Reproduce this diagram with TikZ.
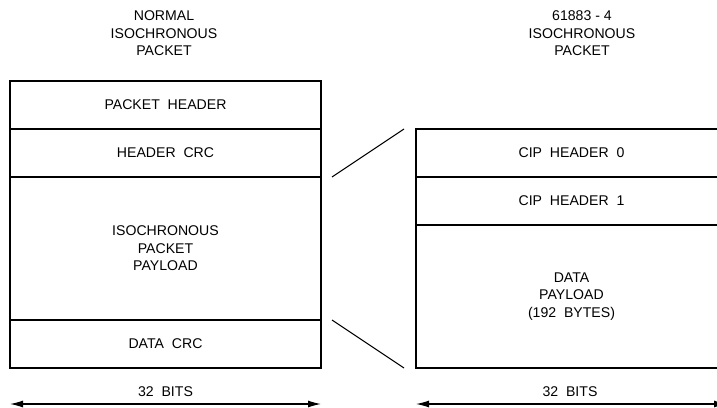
\documentclass[tikz,border=0pt]{standalone}
\usepackage{fontspec}
\setmainfont{Liberation Sans}
\usetikzlibrary{arrows.meta}
\begin{document}
\begin{tikzpicture}[x=1pt,y=-1pt,
  every node/.style={font=\fontsize{14.1}{17.5}\selectfont, align=center, inner sep=0pt},
  cell/.style={draw, line width=1.1pt, minimum width=311pt, minimum height=#1},
  link/.style={line width=1pt},
  dim/.style={line width=1.1pt, {Latex[length=13pt,width=7pt]}-{Latex[length=13pt,width=7pt]}}]
\useasboundingbox (0,0) rectangle (717,407);
\clip (0,0) rectangle (717,407);
% titles
\node (t1) at (164,33.5) {NORMAL\\ISOCHRONOUS\\PACKET};
\node (t2) at (582,33.5) {61883 - 4\\ISOCHRONOUS\\PACKET};
% left packet
\node[cell=48pt]  (ph)  at (165.5,105)   {PACKET\ \ HEADER};
\node[cell=48pt]  (hc)  at (165.5,153)   {HEADER\ \ CRC};
\node[cell=143pt] (ip)  at (165.5,248.5) {ISOCHRONOUS\\PACKET\\PAYLOAD};
\node[cell=48pt]  (dc)  at (165.5,344)   {DATA\ \ CRC};
% right packet
\node[cell=48pt]  (c0)  at (571.5,153)   {CIP\ \ HEADER\ \ 0};
\node[cell=48pt]  (c1)  at (571.5,201)   {CIP\ \ HEADER\ \ 1};
\node[cell=143pt] (dp)  at (571.5,296.5) {DATA\\PAYLOAD\\(192\ \ BYTES)};
% expansion lines
\coordinate (u1) at (332,177);
\coordinate (u2) at (404,129);
\coordinate (l1) at (332,320);
\coordinate (l2) at (404,368);
\draw[link] (u1) -- (u2);
\draw[link] (l1) -- (l2);
% width dimensions
\node (b1) at (165.5,392) {32\ \ BITS};
\node (b2) at (570,392) {32\ \ BITS};
\coordinate (a1) at (10,404);
\coordinate (a2) at (321,404);
\coordinate (a3) at (416,404);
\coordinate (a4) at (727,404);
\draw[dim] (a1) -- (a2);
\draw[dim] (a3) -- (a4);
\end{tikzpicture}
\end{document}
